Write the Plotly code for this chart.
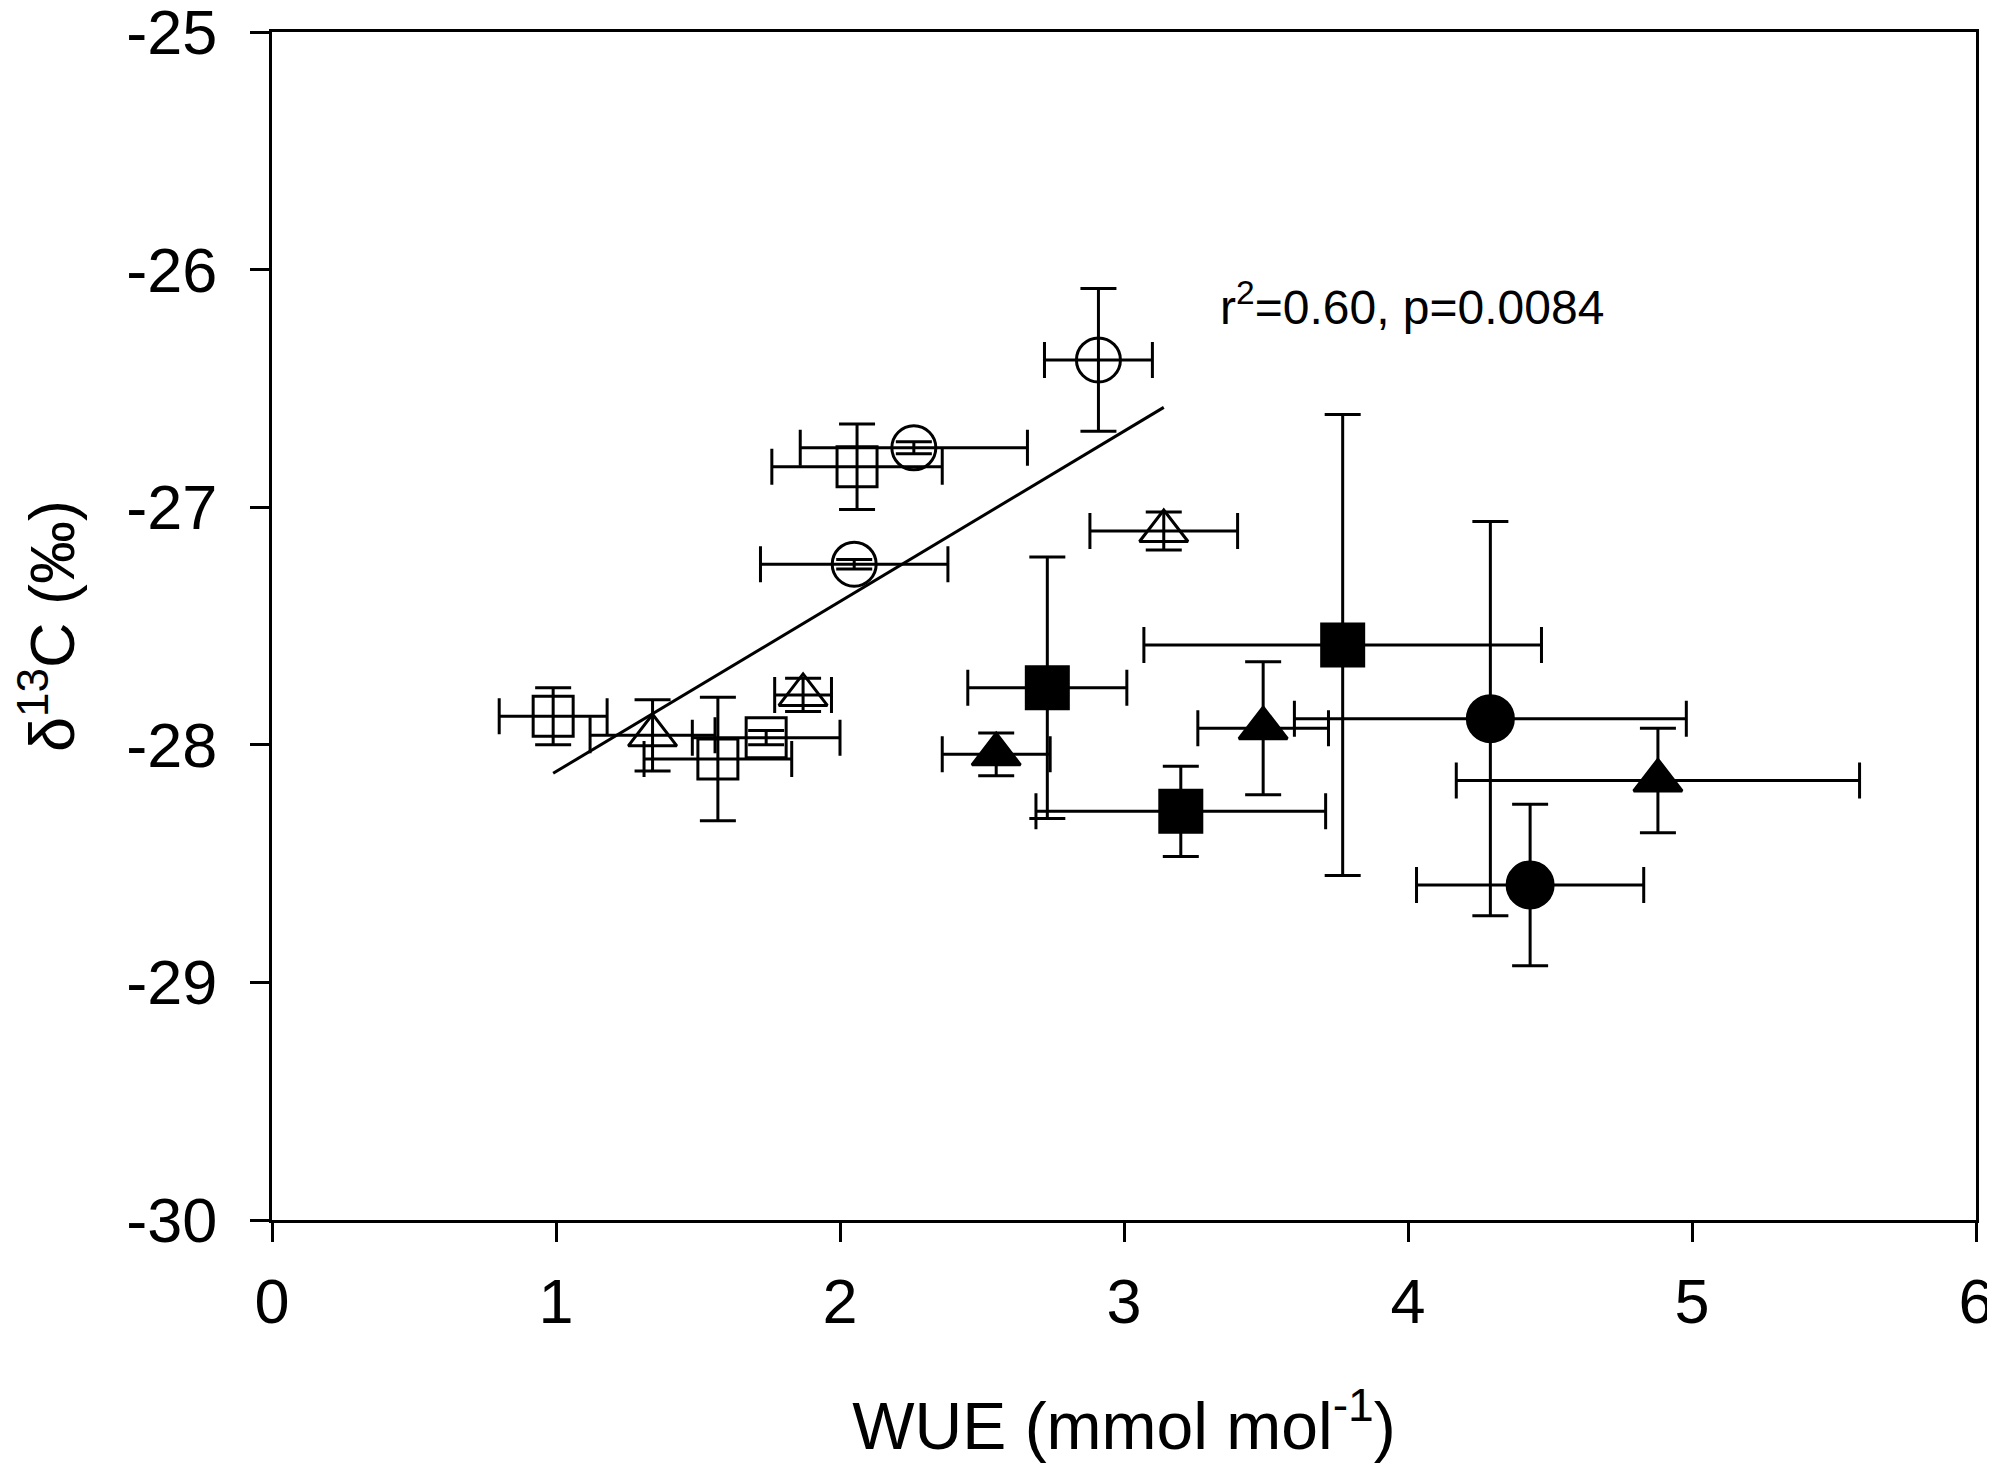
import plotly.graph_objects as go

# open symbols (regression set)
oc_x = [2.91, 2.26, 2.05]
oc_y = [-26.38, -26.75, -27.24]
oc_xerr = [0.19, 0.40, 0.33]
oc_yerr = [0.30, 0.025, 0.02]

os_x = [2.06, 0.99, 1.57, 1.74]
os_y = [-26.83, -27.88, -28.06, -27.97]
os_xerr = [0.30, 0.19, 0.26, 0.26]
os_yerr = [0.18, 0.12, 0.26, 0.03]

ot_x = [1.34, 1.87, 3.14]
ot_y = [-27.96, -27.79, -27.10]
ot_xerr = [0.22, 0.10, 0.26]
ot_yerr = [0.15, 0.07, 0.08]

# filled symbols
fc_x = [4.29, 4.43]
fc_y = [-27.89, -28.59]
fc_xerr = [0.69, 0.40]
fc_yerr = [0.83, 0.34]

fs_x = [2.73, 3.20, 3.77]
fs_y = [-27.76, -28.28, -27.58]
fs_xerr = [0.28, 0.51, 0.70]
fs_yerr = [0.55, 0.19, 0.97]

ft_x = [2.55, 3.49, 4.88]
ft_y = [-28.04, -27.93, -28.15]
ft_xerr = [0.19, 0.23, 0.71]
ft_yerr = [0.09, 0.28, 0.22]

# regression line end points (open symbols)
fit_x = [0.99, 3.14]
fit_y = [-28.12, -26.58]

y_ticks = [-30, -29, -28, -27, -26, -25]
y_labels = ["-30", "-29", "-28", "-27", "-26", "-25"]
x_ticks = [0, 1, 2, 3, 4, 5, 6]

FONT = "Arial, Liberation Sans, sans-serif"

fig = go.Figure()

fig.add_trace(go.Scatter(x=fit_x, y=fit_y, mode="lines",
                         line=dict(color="black", width=3), showlegend=False))


def add_group(x, y, xe, ye, symbol, size):
    fig.add_trace(go.Scatter(
        x=x, y=y, mode="markers", showlegend=False,
        marker=dict(symbol=symbol, size=size, color="black",
                    line=dict(color="black", width=3)),
        error_x=dict(type="data", array=xe, color="black", thickness=3, width=18),
        error_y=dict(type="data", array=ye, color="black", thickness=3, width=18),
    ))


add_group(oc_x, oc_y, oc_xerr, oc_yerr, "circle-open", 44)
add_group(os_x, os_y, os_xerr, os_yerr, "square-open", 40)
add_group(ot_x, ot_y, ot_xerr, ot_yerr, "triangle-up-open", 42)
add_group(fc_x, fc_y, fc_xerr, fc_yerr, "circle", 46)
add_group(fs_x, fs_y, fs_xerr, fs_yerr, "square", 42)
add_group(ft_x, ft_y, ft_xerr, ft_yerr, "triangle-up", 42)

fig.add_annotation(x=3.33, y=-26.145, xref="x", yref="y", xanchor="left", yanchor="middle",
                   text="r<sup>2</sup>=0.60, p=0.0084", showarrow=False,
                   font=dict(family=FONT, size=48, color="black"))

fig.update_xaxes(range=[0, 6], tickvals=x_ticks, showgrid=False, zeroline=False,
                 automargin=False,
                 showline=True, mirror=True, linecolor="black", linewidth=3,
                 ticks="outside", ticklen=19, tickwidth=3, tickcolor="black",
                 tickfont=dict(family=FONT, size=63, color="black"),
                 ticklabelstandoff=5, ticklabeloverflow="allow",
                 title=dict(text="WUE (mmol mol<sup>-1</sup>)", standoff=86,
                            font=dict(family=FONT, size=66, color="black")))
fig.update_yaxes(range=[-30, -25], tickvals=y_ticks, ticktext=y_labels,
                 showgrid=False, zeroline=False, automargin=False,
                 showline=True, mirror=True, linecolor="black", linewidth=3,
                 ticks="outside", ticklen=19, tickwidth=3, tickcolor="black",
                 tickfont=dict(family=FONT, size=63, color="black"),
                 ticklabelstandoff=20, ticklabeloverflow="allow",
                 title=dict(text="δ<sup>13</sup>C (‰)", standoff=40,
                            font=dict(family=FONT, size=63, color="black")))

fig.update_layout(width=1987, height=1455, plot_bgcolor="white", paper_bgcolor="white",
                  margin=dict(l=264, r=19, t=24, b=243), showlegend=False)

fig.write_html("out.html")
